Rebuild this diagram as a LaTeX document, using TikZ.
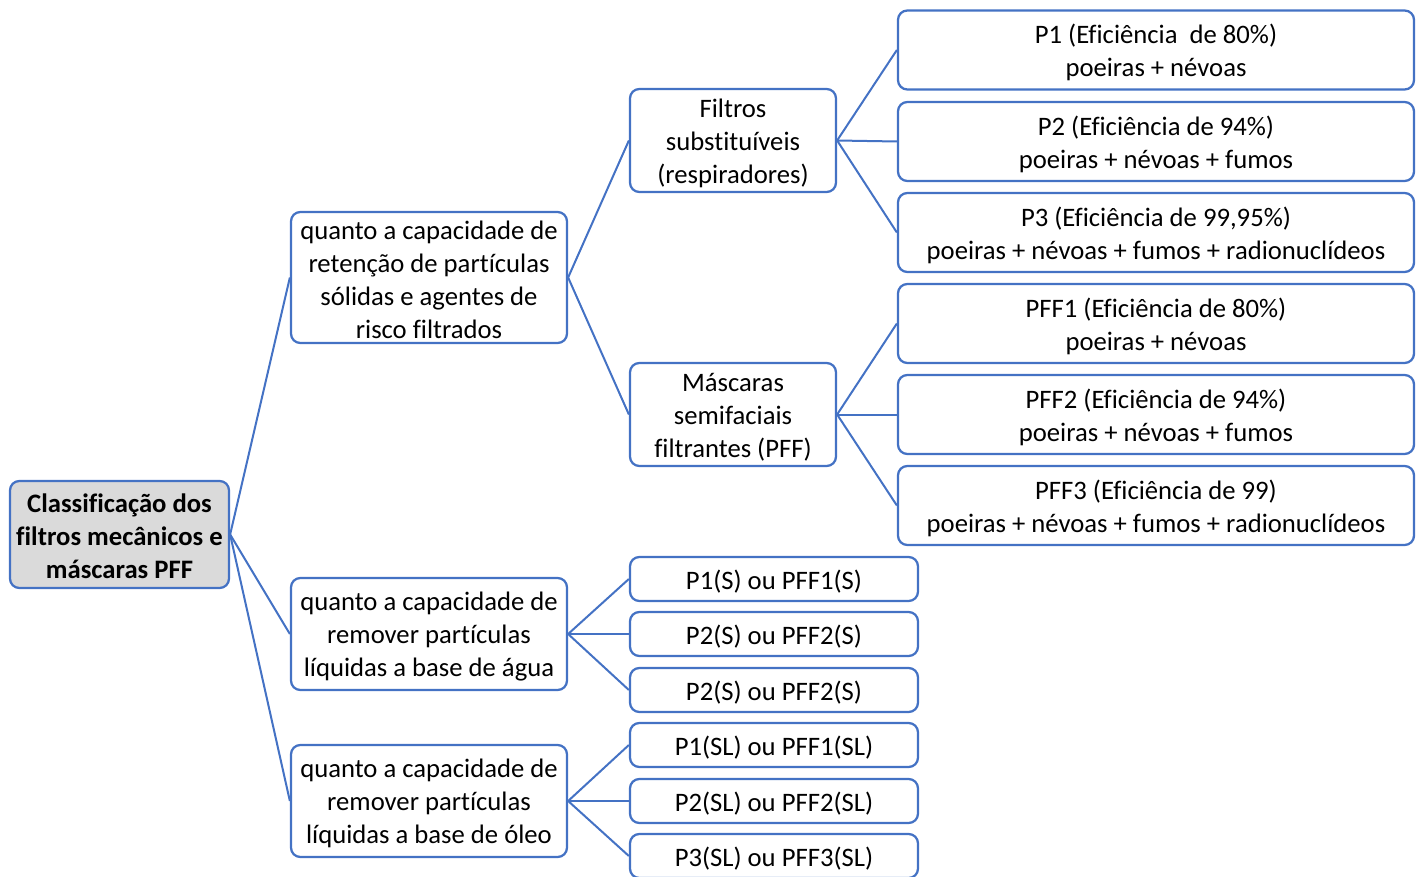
\documentclass[tikz,border=0pt]{standalone}
\usepackage{fontspec}
\setmainfont{Carlito}[Ligatures=NoCommon]
\definecolor{edgeblue}{HTML}{4472C4}
\definecolor{rootfill}{HTML}{DADADA}
\begin{document}
\begin{tikzpicture}[x=0.75pt,y=-0.75pt,
  boxtext/.style={align=center,inner sep=0pt,yshift=-2pt,
    font=\fontsize{20}{24.75}\selectfont},
  txt/.style={label={[boxtext]center:{#1}}},
  boldtxt/.style={label={[boxtext,font=\fontsize{20}{24.75}\selectfont\bfseries,yshift=1pt]center:{#1}}},
  box/.style={draw=edgeblue,line width=1.7pt,rounded corners=7pt,fill=white,inner sep=0pt},
  rootbox/.style={box,fill=rootfill},
  lvlone/.style={box,minimum width=207pt},
  lvltwo/.style={box,minimum width=154.5pt,minimum height=77.25pt},
  leafbig/.style={box,minimum width=387pt,minimum height=59.25pt},
  leafsmall/.style={box,minimum width=216pt,minimum height=33pt},
  link/.style={draw=edgeblue,line width=1.5pt}]
\useasboundingbox (0,0) rectangle (1421,877);
\clip (0,0) rectangle (1421,877);

% root
\node[rootbox,minimum width=164.25pt,minimum height=80.25pt,
  boldtxt={Classificação dos\\filtros mecânicos e\\máscaras PFF}] (root) at (119.5,534.5) {};

% first level
\node[lvlone,minimum height=98.25pt,
  txt={quanto a capacidade de\\retenção de partículas\\sólidas e agentes de\\risco filtrados}] (ret) at (429,277.5) {};
\node[lvlone,minimum height=84pt,
  txt={quanto a capacidade de\\remover partículas\\líquidas a base de água}] (agua) at (429,634) {};
\node[lvlone,minimum height=84pt,
  txt={quanto a capacidade de\\remover partículas\\líquidas a base de óleo}] (oleo) at (429,801) {};

% second level
\node[lvltwo,txt={Filtros\\substituíveis\\(respiradores)}] (filt) at (733,140.5) {};
\node[lvltwo,txt={Máscaras\\semifaciais\\filtrantes (PFF)}] (masc) at (733,414.5) {};

% filter classes
\node[leafbig,txt={P1 (Eficiência\ \ de 80\%)\\poeiras + névoas}] (p1) at (1156,50) {};
\node[leafbig,txt={P2 (Eficiência de 94\%)\\poeiras + névoas + fumos}] (p2) at (1156,141.5) {};
\node[leafbig,txt={P3 (Eficiência de 99,95\%)\\poeiras + névoas + fumos + radionuclídeos}] (p3) at (1156,232.5) {};
\node[leafbig,txt={PFF1 (Eficiência de 80\%)\\poeiras + névoas}] (pff1) at (1156,323.5) {};
\node[leafbig,txt={PFF2 (Eficiência de 94\%)\\poeiras + névoas + fumos}] (pff2) at (1156,414.5) {};
\node[leafbig,txt={PFF3 (Eficiência de 99)\\poeiras + névoas + fumos + radionuclídeos}] (pff3) at (1156,505.5) {};

% water-based liquids
\node[leafsmall,txt={P1(S) ou PFF1(S)}] (s1) at (774,579) {};
\node[leafsmall,txt={P2(S) ou PFF2(S)}] (s2) at (774,634) {};
\node[leafsmall,txt={P2(S) ou PFF2(S)}] (s3) at (774,690) {};

% oil-based liquids
\node[leafsmall,txt={P1(SL) ou PFF1(SL)}] (sl1) at (774,745) {};
\node[leafsmall,txt={P2(SL) ou PFF2(SL)}] (sl2) at (774,801) {};
\node[leafsmall,txt={P3(SL) ou PFF3(SL)}] (sl3) at (774,856) {};

% connectors
\foreach \c in {ret,agua,oleo} \draw[link] (root.east) -- (\c.west);
\foreach \c in {filt,masc} \draw[link] (ret.east) -- (\c.west);
\foreach \c in {p1,p2,p3} \draw[link] (filt.east) -- (\c.west);
\foreach \c in {pff1,pff2,pff3} \draw[link] (masc.east) -- (\c.west);
\foreach \c in {s1,s2,s3} \draw[link] (agua.east) -- (\c.west);
\foreach \c in {sl1,sl2,sl3} \draw[link] (oleo.east) -- (\c.west);
\end{tikzpicture}
\end{document}
